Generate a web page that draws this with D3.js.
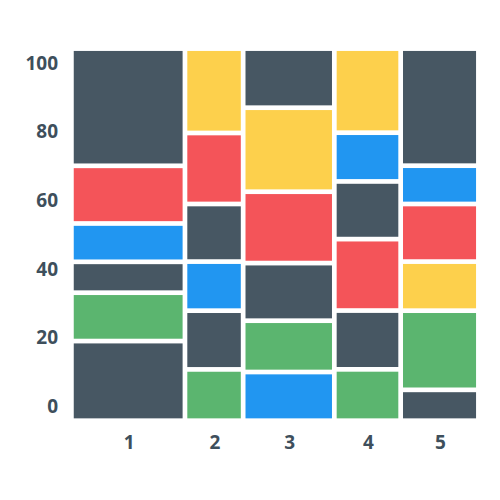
<!DOCTYPE html>
<html><head><meta charset="utf-8">
<script src="https://cdn.jsdelivr.net/npm/d3@7"></script>
<style>body{margin:0;background:#fff}svg{display:block}</style>
</head><body>
<div id="chart"></div>
<script>
// Data
const categories = ["1", "2", "3", "4", "5"];
const columnWidths = [27.9, 14.3, 22.4, 16.3, 19.1];
// segment values per column, bottom -> top
const col1 = [21.4, 13.0, 8.3, 10.3, 15.5, 31.5];
const col2 = [13.8, 15.8, 13.2, 15.5, 19.1, 22.7];
const col3 = [13.1, 13.8, 15.5, 19.2, 22.6, 15.9];
const col4 = [13.8, 15.8, 19.2, 15.5, 13.1, 22.6];
const col5 = [8.3, 21.3, 13.2, 15.5, 10.3, 31.5];
// colour keys per column, bottom -> top
const colors1 = ["dark", "green", "dark", "blue", "red", "dark"];
const colors2 = ["green", "dark", "blue", "dark", "red", "yellow"];
const colors3 = ["blue", "green", "dark", "red", "yellow", "dark"];
const colors4 = ["green", "dark", "red", "dark", "blue", "yellow"];
const colors5 = ["dark", "green", "yellow", "red", "blue", "dark"];
const yTicks = [0, 20, 40, 60, 80, 100];

const palette = {dark: "#475763", red: "#f45459", blue: "#2196f1", green: "#5bb56f", yellow: "#fdd04c"};

const W = 500, H = 500;
const svg = d3.select("#chart").append("svg").attr("width", W).attr("height", H);

const values = [col1, col2, col3, col4, col5];
const colorKeys = [colors1, colors2, colors3, colors4, colors5];

const x = d3.scaleLinear().domain([0, d3.sum(columnWidths)]).range([71.4, 478.4]);
const y = d3.scaleLinear().domain([0, 100]).range([420.7, 48.6]);
const yLabel = d3.scaleLinear().domain([0, 100]).range([406, 62.7]);
const gap = 4.7;

const cumX = [0];
columnWidths.forEach((w, i) => cumX.push(cumX[i] + w));

const cells = [];
values.forEach((vals, ci) => {
  const total = d3.sum(vals);
  let acc = 0;
  vals.forEach((v, si) => {
    const y0 = acc / total * 100, y1 = (acc + v) / total * 100;
    acc += v;
    cells.push({ci, x0: cumX[ci], x1: cumX[ci + 1], y0, y1, color: palette[colorKeys[ci][si]]});
  });
});

svg.append("g").selectAll("rect").data(cells).join("rect")
  .attr("x", d => x(d.x0) + gap / 2)
  .attr("width", d => x(d.x1) - x(d.x0) - gap)
  .attr("y", d => y(d.y1) + gap / 2)
  .attr("height", d => y(d.y0) - y(d.y1) - gap)
  .attr("fill", d => d.color);

const font = "'Open Sans', 'DejaVu Sans', sans-serif";
svg.append("g").selectAll("text").data(yTicks).join("text")
  .attr("x", 58)
  .attr("y", d => yLabel(d))
  .attr("dy", "0.36em")
  .attr("text-anchor", "end")
  .attr("font-family", font)
  .attr("font-weight", 700)
  .attr("font-size", 19)
  .attr("fill", "#3e4f5c")
  .text(d => d);

svg.append("g").selectAll("text").data(categories).join("text")
  .attr("x", (d, i) => (x(cumX[i]) + x(cumX[i + 1])) / 2 + 1)
  .attr("y", 442)
  .attr("dy", "0.36em")
  .attr("text-anchor", "middle")
  .attr("font-family", font)
  .attr("font-weight", 700)
  .attr("font-size", 19)
  .attr("fill", "#3e4f5c")
  .text(d => d);
</script>
</body></html>
